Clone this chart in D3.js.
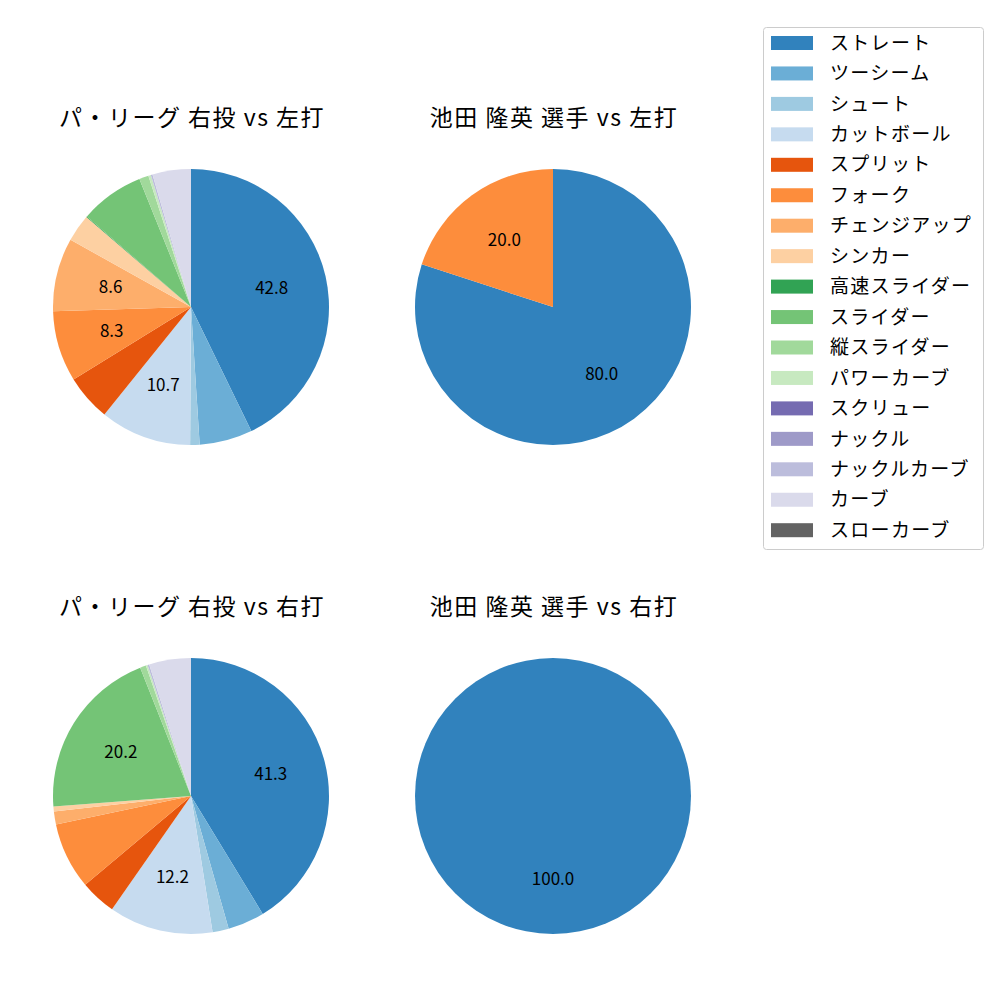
<!DOCTYPE html>
<html lang="ja">
<meta charset="utf-8">
<style>
body { margin: 0; background: #fff; }
text { font-family: "Noto Sans CJK JP", "Noto Sans", sans-serif; fill: #000; }
</style>
<body>
<script src="https://d3js.org/d3.v7.min.js"></script>
<script>
// pitch types and colours (legend order)
var pitchTypes = ["ストレート", "ツーシーム", "シュート", "カットボール", "スプリット", "フォーク",
  "チェンジアップ", "シンカー", "高速スライダー", "スライダー", "縦スライダー", "パワーカーブ",
  "スクリュー", "ナックル", "ナックルカーブ", "カーブ", "スローカーブ"];
var pitchColors = ["#3182bd", "#6baed6", "#9ecae1", "#c6dbef", "#e6550d", "#fd8d3c",
  "#fdae6b", "#fdd0a2", "#31a354", "#74c476", "#a1d99b", "#c7e9c0",
  "#756bb1", "#9e9ac8", "#bcbddc", "#dadaeb", "#636363"];

// shares (%) per pitch type, same order as pitchTypes
var leagueVsLeft  = [42.8, 6.2, 1.1, 10.7, 5.4, 8.3, 8.6, 3.2, 0.1, 7.5, 1.1, 0.3, 0, 0, 0.2, 4.5, 0];
var playerVsLeft  = [80.0, 0, 0, 0, 0, 20.0, 0, 0, 0, 0, 0, 0, 0, 0, 0, 0, 0];
var leagueVsRight = [41.3, 4.3, 1.9, 12.2, 4.2, 7.8, 1.5, 0.6, 0, 20.2, 0.7, 0.2, 0, 0, 0.2, 4.9, 0];
var playerVsRight = [100.0, 0, 0, 0, 0, 0, 0, 0, 0, 0, 0, 0, 0, 0, 0, 0, 0];

var titles = ["パ・リーグ 右投 vs 左打", "池田 隆英 選手 vs 左打", "パ・リーグ 右投 vs 右打", "池田 隆英 選手 vs 右打"];

var width = 1000, height = 1000;
var svg = d3.select("body").append("svg")
    .attr("width", width)
    .attr("height", height);

var color = d3.scaleOrdinal().domain(pitchTypes).range(pitchColors);

var panels = [
  {data: leagueVsLeft,  title: titles[0], cx: 191, cy: 307},
  {data: playerVsLeft,  title: titles[1], cx: 553, cy: 307},
  {data: leagueVsRight, title: titles[2], cx: 191, cy: 796},
  {data: playerVsRight, title: titles[3], cx: 553, cy: 796}
];
var radius = 138;

var pie = d3.pie().sort(null).value(function(d) { return d.value; });
var arc = d3.arc().innerRadius(0).outerRadius(radius);
var labelArc = d3.arc().innerRadius(radius * 0.6).outerRadius(radius * 0.6);

panels.forEach(function(p) {
  var rows = pitchTypes.map(function(t, i) { return {type: t, value: p.data[i]}; })
    .filter(function(d) { return d.value > 0; });
  var total = d3.sum(rows, function(d) { return d.value; });

  var g = svg.append("g").attr("transform", "translate(" + p.cx + "," + p.cy + ")");

  g.selectAll("path")
    .data(pie(rows))
    .enter().append("path")
      .attr("d", arc)
      .attr("fill", function(d) { return color(d.data.type); });

  g.selectAll("text.pct")
    .data(pie(rows).filter(function(d) { return d.data.value / total * 100 >= 8; }))
    .enter().append("text")
      .attr("class", "pct")
      .attr("transform", function(d) { return "translate(" + labelArc.centroid(d) + ")"; })
      .attr("text-anchor", "middle")
      .attr("dy", "0.35em")
      .style("font-size", "17px")
      .text(function(d) { return (d.data.value / total * 100).toFixed(1); });

  svg.append("text")
    .attr("x", p.cx + 1)
    .attr("y", p.cy - 181)
    .attr("text-anchor", "middle")
    .style("font-size", "23px")
    .style("letter-spacing", "1.5px")
    .text(p.title);
});

// legend
var legend = svg.append("g").attr("transform", "translate(763,27)");
legend.append("rect")
  .attr("x", 0.5).attr("y", 0.5)
  .attr("width", 220).attr("height", 522)
  .attr("rx", 3)
  .attr("fill", "#fff")
  .attr("stroke", "#ccc");

var item = legend.selectAll("g.item")
  .data(pitchTypes)
  .enter().append("g")
    .attr("class", "item")
    .attr("transform", function(d, i) { return "translate(0," + (16 + i * 30.45) + ")"; });

item.append("rect")
  .attr("x", 8).attr("y", -7)
  .attr("width", 42).attr("height", 14)
  .attr("fill", function(d) { return color(d); });

item.append("text")
  .attr("x", 67)
  .attr("dy", "0.35em")
  .style("font-size", "19px")
  .style("letter-spacing", "1.3px")
  .text(function(d) { return d; });
</script>
</body>
</html>
